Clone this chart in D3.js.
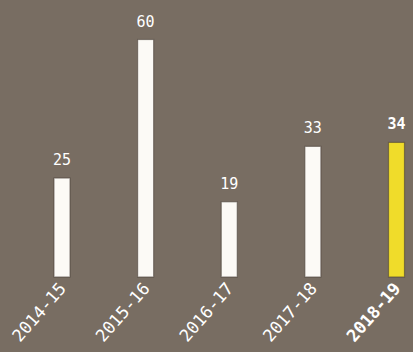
<!DOCTYPE html>
<html>
<head>
<meta charset="utf-8">
<script src="https://cdn.jsdelivr.net/npm/d3@7/dist/d3.min.js"></script>
<style>
  html, body { margin: 0; padding: 0; background: #786d62; }
  svg { display: block; }
</style>
</head>
<body>
<svg id="chart" width="413" height="352"></svg>
<script>
// Season totals
const seasons = ["2014-15", "2015-16", "2016-17", "2017-18", "2018-19"];
const totals = [25, 60, 19, 33, 34];
const highlightSeason = "2018-19";

const W = 413, H = 352;
const baseY = 277, topY = 39.5;
const barW = 16;

const svg = d3.select("#chart");
svg.append("rect").attr("width", W).attr("height", H).attr("fill", "#786d62");

const x = d3.scalePoint().domain(seasons).range([62, 396.5]);
const y = d3.scaleLinear().domain([0, d3.max(totals)]).range([baseY, topY]);

const rows = seasons.map((s, i) => ({ season: s, value: totals[i] }));
const font = "'DejaVu Sans Mono', monospace";

// bars
svg.selectAll("rect.bar").data(rows).join("rect")
  .attr("class", "bar")
  .attr("x", d => x(d.season) - barW / 2)
  .attr("y", d => y(d.value))
  .attr("width", barW)
  .attr("height", d => baseY - y(d.value))
  .attr("fill", d => d.season === highlightSeason ? "#f0dc2a" : "#fcfaf6")
  .attr("stroke", "rgba(70,60,52,0.55)")
  .attr("stroke-width", 1.2);

// value labels
svg.selectAll("text.val").data(rows).join("text")
  .attr("class", "val")
  .attr("x", d => x(d.season))
  .attr("y", d => y(d.value) - 13)
  .attr("text-anchor", "middle")
  .attr("font-family", font)
  .attr("font-size", 15)
  .attr("font-weight", d => d.season === highlightSeason ? "bold" : "normal")
  .attr("fill", "#ffffff")
  .text(d => d.value);

// rotated season labels
svg.selectAll("text.season").data(rows).join("text")
  .attr("class", "season")
  .attr("transform", d => `translate(${x(d.season) + 5},${baseY + 12}) rotate(-49)`)
  .attr("text-anchor", "end")
  .attr("font-family", font)
  .attr("font-size", 17)
  .attr("font-weight", d => d.season === highlightSeason ? "bold" : "normal")
  .attr("fill", "#ffffff")
  .text(d => d.season);
</script>
</body>
</html>
